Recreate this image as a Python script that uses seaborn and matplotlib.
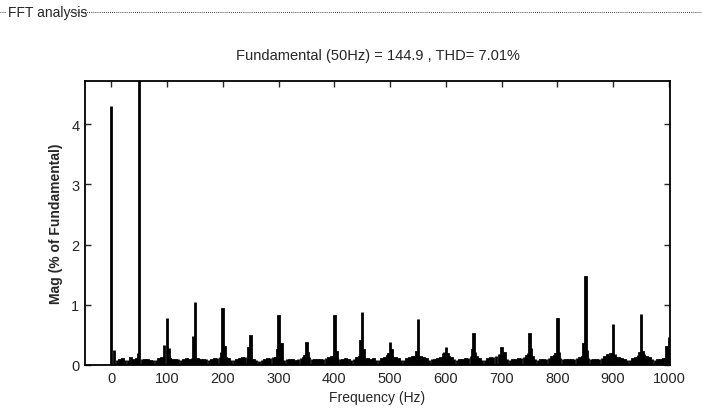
import numpy as np
import pandas as pd
import matplotlib
matplotlib.use("Agg")
import matplotlib.pyplot as plt
import seaborn as sns

# ---- data ----
harm_freq = [0, 50, 100, 150, 200, 250, 300, 350, 400, 450, 500,
             550, 600, 650, 700, 750, 800, 850, 900, 950, 1000]
harm_mag = [4.30, 100.0, 0.78, 1.05, 0.93, 0.48, 0.82, 0.36, 0.82, 0.88, 0.38,
            0.77, 0.30, 0.52, 0.28, 0.52, 0.77, 1.47, 0.68, 0.85, 0.47]

side_freq = [5, 48, 95, 104, 147, 197, 203, 246, 298, 305, 347, 352, 398, 404,
             447, 452, 497, 503, 547, 597, 603, 648, 652, 697, 705, 747, 753,
             797, 803, 847, 853, 897, 903, 947, 953, 996]
side_mag = [0.25, 0.20, 0.33, 0.28, 0.48, 0.22, 0.30, 0.28, 0.25, 0.35, 0.15, 0.20,
            0.12, 0.22, 0.40, 0.25, 0.18, 0.25, 0.22, 0.22, 0.18, 0.25, 0.22,
            0.18, 0.20, 0.20, 0.28, 0.18, 0.22, 0.35, 0.25, 0.12, 0.18, 0.20, 0.22, 0.30]

floor_freq = list(range(0, 1001, 5))
floor_mag = [0.10, 0.12, 0.09, 0.08, 0.10, 0.09, 0.08, 0.11, 0.09, 0.10,
             0.08, 0.10, 0.09, 0.08, 0.07, 0.09, 0.08, 0.10, 0.12, 0.15,
             0.13, 0.10, 0.09, 0.08, 0.10, 0.09, 0.08, 0.10, 0.09, 0.11,
             0.12, 0.10, 0.08, 0.09, 0.10, 0.08, 0.09, 0.10, 0.12, 0.13,
             0.14, 0.12, 0.10, 0.08, 0.09, 0.08, 0.10, 0.12, 0.13, 0.12,
             0.11, 0.09, 0.08, 0.07, 0.09, 0.08, 0.10, 0.12, 0.14, 0.12,
             0.10, 0.09, 0.08, 0.10, 0.09, 0.08, 0.07, 0.10, 0.11, 0.12,
             0.14, 0.13, 0.10, 0.09, 0.08, 0.09, 0.10, 0.11, 0.12, 0.14,
             0.13, 0.11, 0.10, 0.09, 0.10, 0.08, 0.09, 0.10, 0.12, 0.14,
             0.15, 0.12, 0.10, 0.09, 0.10, 0.09, 0.08, 0.10, 0.12, 0.15,
             0.18, 0.14, 0.12, 0.10, 0.09, 0.08, 0.10, 0.12, 0.14, 0.15,
             0.18, 0.14, 0.12, 0.10, 0.09, 0.10, 0.09, 0.10, 0.12, 0.20,
             0.18, 0.14, 0.11, 0.10, 0.09, 0.08, 0.09, 0.10, 0.12, 0.15,
             0.18, 0.14, 0.10, 0.09, 0.08, 0.10, 0.12, 0.14, 0.15, 0.18,
             0.14, 0.12, 0.10, 0.09, 0.08, 0.09, 0.10, 0.12, 0.14, 0.15,
             0.16, 0.13, 0.10, 0.09, 0.08, 0.09, 0.10, 0.12, 0.14, 0.15,
             0.14, 0.12, 0.10, 0.09, 0.08, 0.09, 0.10, 0.11, 0.12, 0.14,
             0.13, 0.11, 0.10, 0.09, 0.08, 0.10, 0.12, 0.14, 0.16, 0.18,
             0.15, 0.13, 0.11, 0.10, 0.09, 0.08, 0.09, 0.10, 0.12, 0.16,
             0.25, 0.18, 0.14, 0.12, 0.10, 0.09, 0.08, 0.09, 0.10, 0.12,
             0.20]

x_ticks = [0, 100, 200, 300, 400, 500, 600, 700, 800, 900, 1000]
y_ticks = [0, 1, 2, 3, 4]

title_text = "Fundamental (50Hz) = 144.9 , THD= 7.01%"

# ---- build the table ----
df = pd.concat([
    pd.DataFrame({"freq": floor_freq, "mag": floor_mag}),
    pd.DataFrame({"freq": side_freq, "mag": side_mag}),
    pd.DataFrame({"freq": harm_freq, "mag": harm_mag}),
])
df = df.groupby("freq", as_index=False)["mag"].max()

sns.set_style("white")
plt.rcParams["font.family"] = ["Liberation Sans Narrow", "Liberation Sans", "DejaVu Sans"]

fig = plt.figure(figsize=(7.02, 4.14), dpi=100)
ax = fig.add_axes([85/702, 1-366/414, (670-85)/702, (366-82)/414])

sns.barplot(data=df, x="freq", y="mag", native_scale=True, color="black",
            width=1.0, edgecolor="black", linewidth=2.0, ax=ax, saturation=1)

ax.set_xlim(-47, 1002)
ax.set_ylim(0, 4.72)
ax.set_xticks(x_ticks)
ax.set_yticks(y_ticks)
ax.set_xticklabels([str(t) for t in x_ticks], fontsize=10.5)
ax.set_yticklabels([str(t) for t in y_ticks], fontsize=10.5)
ax.tick_params(direction="in", length=4, width=1, top=True, right=True,
               bottom=True, left=True, pad=4)
for s in ax.spines.values():
    s.set_color("black")
    s.set_linewidth(1.3)
    s.set_visible(True)
ax.set_xlabel("Frequency (Hz)", fontsize=10, labelpad=4)
ax.set_ylabel("Mag (% of Fundamental)", fontsize=10, fontweight="bold", labelpad=6)
ax.set_title(title_text, fontsize=10.5, pad=16)

# panel header
fig.text(8/702, 1-13/414, "FFT analysis", fontsize=10, va="center", ha="left")
fig.add_artist(plt.Line2D([70/702, 1.0], [1-13/414, 1-13/414], color="black",
                          linewidth=0.6, linestyle=(0, (1, 1.5)),
                          transform=fig.transFigure))
fig.add_artist(plt.Line2D([0.0, 6/702], [1-13/414, 1-13/414], color="black",
                          linewidth=0.6, linestyle=(0, (1, 1.5)),
                          transform=fig.transFigure))

fig.savefig("out.png", dpi=100)
